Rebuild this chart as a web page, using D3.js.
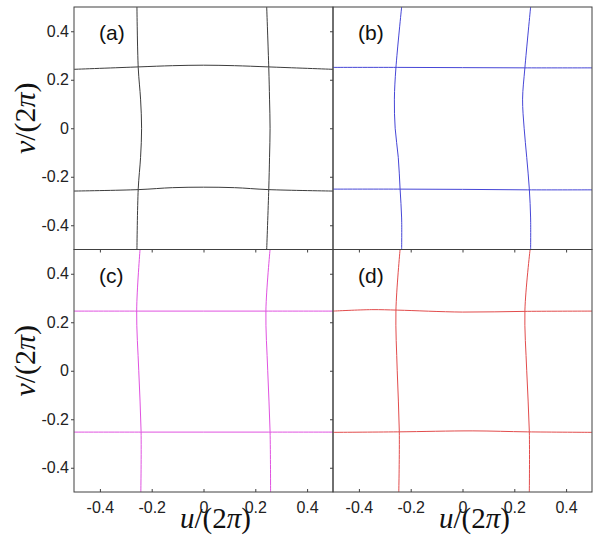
<!DOCTYPE html>
<html>
<head>
<meta charset="utf-8">
<script src="https://cdn.jsdelivr.net/npm/d3@7"></script>
<style>
  body { margin: 0; background: #fff; }
  svg { display: block; }
</style>
</head>
<body>
<div id="chart"></div>
<script>
// ticks shared by every panel (u and v in units of 2*pi)
const tickValues = [-0.4, -0.2, 0, 0.2, 0.4];
const tickLabels = ["-0.4", "-0.2", "0", "0.2", "0.4"];
const panelLabels = ["(a)", "(b)", "(c)", "(d)"];

// (a) -- near-vertical curves: u read at the listed v
const aVSamples = [0.5, 0.25, 0.12, 0, -0.12, -0.25, -0.5];
const aLeftU = [-0.257, -0.252, -0.243, -0.239, -0.243, -0.252, -0.257];
const aRightU = [0.244, 0.252, 0.255, 0.257, 0.255, 0.252, 0.244];
// (a) -- near-horizontal curves: v read at the listed u
const aUSamples = [-0.5, -0.25, -0.12, 0, 0.12, 0.25, 0.5];
const aTopV = [0.243, 0.253, 0.258, 0.260, 0.258, 0.253, 0.243];
const aBottomV = [-0.259, -0.253, -0.245, -0.243, -0.245, -0.253, -0.259];

// (b)
const bVSamples = [0.5, 0.25, 0.12, 0, -0.12, -0.25, -0.37, -0.5];
const bLeftU = [-0.235, -0.257, -0.263, -0.260, -0.248, -0.241, -0.235, -0.235];
const bRightU = [0.263, 0.241, 0.232, 0.238, 0.248, 0.258, 0.263, 0.263];
const bUSamples = [-0.5, -0.25, 0, 0.25, 0.5];
const bTopV = [0.251, 0.251, 0.250, 0.249, 0.249];
const bBottomV = [-0.251, -0.251, -0.252, -0.254, -0.254];

// (c)
const cVSamples = [0.5, 0.25, 0, -0.25, -0.5];
const cLeftU = [-0.245, -0.258, -0.250, -0.241, -0.242];
const cRightU = [0.257, 0.241, 0.248, 0.257, 0.259];
const cUSamples = [-0.5, -0.25, 0, 0.25, 0.5];
const cTopV = [0.246, 0.246, 0.246, 0.246, 0.246];
const cBottomV = [-0.253, -0.253, -0.253, -0.253, -0.253];

// (d)
const dVSamples = [0.5, 0.25, 0, -0.25, -0.5];
const dLeftU = [-0.241, -0.257, -0.252, -0.244, -0.246];
const dRightU = [0.261, 0.241, 0.248, 0.258, 0.258];
const dUSamples = [-0.5, -0.35, -0.25, 0, 0.25, 0.5];
const dTopV = [0.246, 0.252, 0.250, 0.242, 0.245, 0.246];
const dUSamples2 = [-0.5, -0.25, 0.04, 0.25, 0.5];
const dBottomV = [-0.254, -0.252, -0.248, -0.252, -0.254];

const panelColors = ["#3c3c3c", "#4646d6", "#e052e0", "#e24c4c"];

// build point lists: vertical curves pair u with v samples, horizontal the other way
function zipVertical(vs, us) { return vs.map((v, i) => ({ u: us[i], v: v })); }
function zipHorizontal(us, vs) { return us.map((u, i) => ({ u: u, v: vs[i] })); }

const panels = [
  { curves: [zipVertical(aVSamples, aLeftU), zipVertical(aVSamples, aRightU),
             zipHorizontal(aUSamples, aTopV), zipHorizontal(aUSamples, aBottomV)] },
  { curves: [zipVertical(bVSamples, bLeftU), zipVertical(bVSamples, bRightU),
             zipHorizontal(bUSamples, bTopV), zipHorizontal(bUSamples, bBottomV)] },
  { curves: [zipVertical(cVSamples, cLeftU), zipVertical(cVSamples, cRightU),
             zipHorizontal(cUSamples, cTopV), zipHorizontal(cUSamples, cBottomV)] },
  { curves: [zipVertical(dVSamples, dLeftU), zipVertical(dVSamples, dRightU),
             zipHorizontal(dUSamples, dTopV), zipHorizontal(dUSamples2, dBottomV)] }
];

const width = 593, height = 535;
const plotLeft = 74, plotTop = 7;
const cellW = 259, cellH = 242.5;
const frameColor = "#404040";
const tickFont = "'Liberation Sans', Arial, sans-serif";
const mathFont = "'Liberation Serif', 'Times New Roman', serif";

const svg = d3.select("#chart")
    .append("svg")
    .attr("width", width)
    .attr("height", height);

svg.append("rect").attr("width", width).attr("height", height).attr("fill", "#fff");

panels.forEach((p, i) => {
    const col = i % 2, row = Math.floor(i / 2);
    const x0 = plotLeft + col * cellW;
    const y0 = plotTop + row * cellH;

    const xScale = d3.scaleLinear().domain([-0.5, 0.5]).range([x0, x0 + cellW]);
    const yScale = d3.scaleLinear().domain([-0.5, 0.5]).range([y0 + cellH, y0]);

    const clipId = "clip" + i;
    svg.append("clipPath").attr("id", clipId)
        .append("rect")
        .attr("x", x0).attr("y", y0)
        .attr("width", cellW).attr("height", cellH);

    const line = d3.line()
        .x(d => xScale(d.u))
        .y(d => yScale(d.v))
        .curve(d3.curveCatmullRom.alpha(0.5));

    svg.append("g")
        .attr("clip-path", `url(#${clipId})`)
        .selectAll("path")
        .data(p.curves)
        .join("path")
        .attr("fill", "none")
        .attr("stroke", panelColors[i])
        .attr("stroke-width", 1)
        .attr("d", line);

    // left axis: ticks point left on both columns, labels only on the first
    const yAxis = svg.append("g")
        .attr("transform", `translate(${x0},0)`)
        .call(d3.axisLeft(yScale)
            .tickValues(tickValues)
            .tickSize(3)
            .tickPadding(2)
            .tickFormat((d, k) => col === 0 ? tickLabels[k] : ""));

    // bottom axis: ticks point down between rows, up on the last row
    const xAxis = svg.append("g")
        .attr("transform", `translate(0,${y0 + cellH})`)
        .call(d3.axisBottom(xScale)
            .tickValues(tickValues)
            .tickSizeInner(row === 0 ? 3 : -3)
            .tickSizeOuter(0)
            .tickPadding(row === 0 ? 2 : 10)
            .tickFormat((d, k) => row === 1 ? tickLabels[k] : ""));

    [yAxis, xAxis].forEach(g => {
        g.select(".domain").remove();
        g.attr("color", frameColor)
            .attr("font-family", tickFont)
            .attr("font-size", 16);
        g.selectAll("text").attr("fill", "#222");
    });

    svg.append("rect")
        .attr("x", x0).attr("y", y0)
        .attr("width", cellW).attr("height", cellH)
        .attr("fill", "none")
        .attr("stroke", frameColor)
        .attr("stroke-width", 1);

    svg.append("text")
        .attr("x", x0 + 25)
        .attr("y", y0 + 33)
        .attr("font-family", tickFont)
        .attr("font-size", 21)
        .attr("fill", "#111")
        .text(panelLabels[i]);

    if (col === 0) {
        const yl = svg.append("text")
            .attr("transform", `translate(35,${y0 + cellH / 2 - 10}) rotate(-90)`)
            .attr("text-anchor", "middle")
            .attr("font-family", mathFont)
            .attr("font-size", 30)
            .attr("fill", "#111");
        yl.append("tspan").attr("font-style", "italic").text("v");
        yl.append("tspan").text("/(2");
        yl.append("tspan").attr("font-style", "italic").text("π");
        yl.append("tspan").text(")");
    }

    if (row === 1) {
        const xl = svg.append("text")
            .attr("x", x0 + cellW / 2 + 12)
            .attr("y", 528)
            .attr("text-anchor", "middle")
            .attr("font-family", mathFont)
            .attr("font-size", 29)
            .attr("fill", "#111");
        xl.append("tspan").attr("font-style", "italic").text("u");
        xl.append("tspan").text("/(2");
        xl.append("tspan").attr("font-style", "italic").text("π");
        xl.append("tspan").text(")");
    }
});
</script>
</body>
</html>
